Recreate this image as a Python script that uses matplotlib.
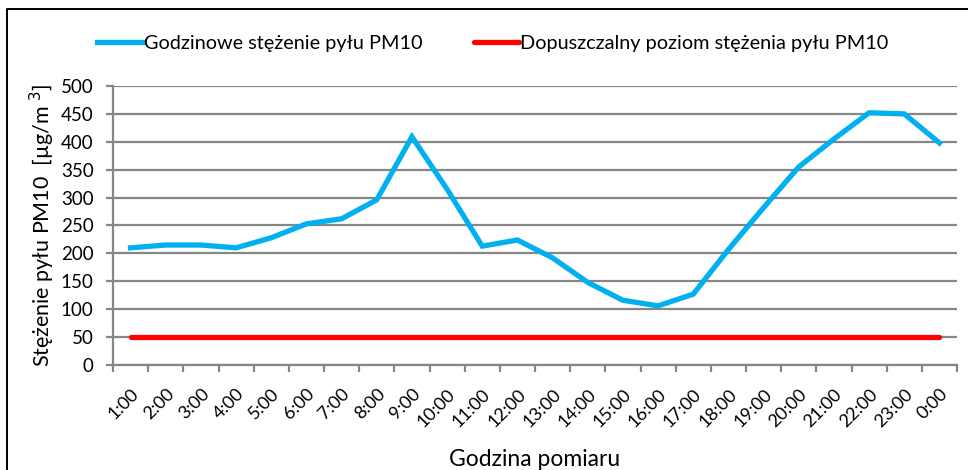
import matplotlib.pyplot as plt
from matplotlib.lines import Line2D

hours = ['1:00', '2:00', '3:00', '4:00', '5:00', '6:00', '7:00', '8:00', '9:00', '10:00',
         '11:00', '12:00', '13:00', '14:00', '15:00', '16:00', '17:00', '18:00', '19:00',
         '20:00', '21:00', '22:00', '23:00', '0:00']
pm10 = [210, 215, 215, 210, 228, 253, 262, 296, 409, 315, 213, 224, 192, 148,
        116, 106, 127, 207, 282, 355, 405, 452, 450, 398]
limit = [50] * len(hours)

plt.rcParams['font.family'] = ['Lato', 'DejaVu Sans']

W, H = 968, 470
fig = plt.figure(figsize=(W / 100, H / 100), dpi=100)
ax = fig.add_axes((113 / W, 1 - 365 / H, (957 - 113) / W, (365 - 86) / H))

x = list(range(len(hours)))
ax.plot(x, pm10, color='#00B0F0', lw=3.8, solid_joinstyle='miter',
        label='Godzinowe stężenie pyłu PM10')
ax.plot(x, limit, color='#FF0000', lw=3.8, solid_capstyle='round',
        label='Dopuszczalny poziom stężenia pyłu PM10')

grey = '#868686'
ax.set_xlim(-0.5, len(hours) - 0.5)
ax.set_ylim(0, 500)
ax.set_yticks(range(0, 501, 50))
ax.yaxis.grid(True, color=grey, lw=1.6)
ax.set_axisbelow(True)
for s in ('top', 'right'):
    ax.spines[s].set_visible(False)
for s in ('left', 'bottom'):
    ax.spines[s].set_color(grey)
    ax.spines[s].set_linewidth(1.6)

# ticks sit between categories, labels at category centres
ax.set_xticks([i - 0.5 for i in range(len(hours) + 1)], minor=False)
ax.set_xticklabels([])
ax.set_xticks(x, minor=True)
ax.set_xticklabels(hours, minor=True, rotation=45, ha='right', va='top',
                   rotation_mode='anchor', fontsize=13)
ax.tick_params(axis='x', which='major', length=5, width=1.6, color=grey)
ax.tick_params(axis='x', which='minor', length=0, pad=15)
ax.tick_params(axis='y', length=5, width=1.6, color=grey, labelsize=13.5, pad=9)

ax.set_ylabel('Stężenie pyłu PM10  [µg/m$^{\\ 3}$]', fontsize=15.5, labelpad=3)
ax.set_xlabel('Godzina pomiaru', fontsize=16.5, labelpad=14)

ax.legend(loc='center left', bbox_to_anchor=(97 / W, 1 - 43 / H), bbox_transform=fig.transFigure,
          ncol=2, frameon=False, fontsize=14.3, handlelength=2.3, handletextpad=0.05,
          columnspacing=2.6, borderpad=0, borderaxespad=0)

fig.lines.append(Line2D([7 / W, 7 / W, 1], [0, 1 - 9 / H, 1 - 9 / H], transform=fig.transFigure,
                        color='black', lw=1.4))

fig.savefig('out.png', dpi=100)
